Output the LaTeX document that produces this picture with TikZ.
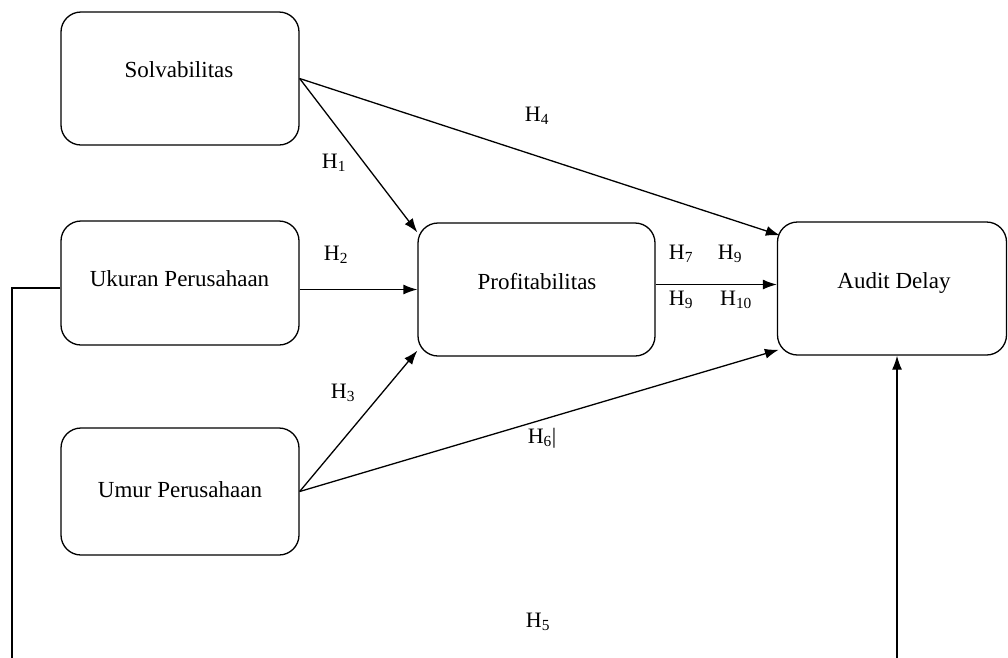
\documentclass[tikz,border=0pt]{standalone}
\usepackage{fontspec}
\setmainfont{Liberation Serif}
\usetikzlibrary{arrows.meta,calc}
\begin{document}
\begin{tikzpicture}[x=1pt,y=-1pt,
  box/.style={draw,line width=1.3pt,rounded corners=20pt,inner sep=0pt},
  txt/.style={font=\fontsize{23}{26}\selectfont,inner sep=0pt},
  hlab/.style={font=\fontsize{22}{24}\selectfont,inner sep=0pt},
  arr/.style={line width=1.3pt,-{Latex[length=14pt,width=10pt]}},
  ln/.style={line width=1.3pt}]
\useasboundingbox (0,0) rectangle (1008,657);
% boxes
\node[box,minimum width=238pt,minimum height=133pt] (solv) at (180,78.5) {};
\node[box,minimum width=238pt,minimum height=124pt] (ukur) at (180,283) {};
\node[box,minimum width=238pt,minimum height=127pt] (umur) at (180,491.5) {};
\node[box,minimum width=237pt,minimum height=133pt] (prof) at (536.5,289.5) {};
\node[box,minimum width=229pt,minimum height=133pt] (audit) at (892,288.5) {};
% texts
\node[txt,anchor=base] (solvT) at (179,77) {Solvabilitas};
\node[txt,anchor=base] (ukurT) at (179.5,286) {Ukuran Perusahaan};
\node[txt,anchor=base] (umurT) at (180,497) {Umur Perusahaan};
\node[txt,anchor=base] (profT) at (537,289) {Profitabilitas};
\node[txt,anchor=base] (auditT) at (894,288) {Audit Delay};
% connectors
\draw[arr] (solv.east) -- ($(prof.north west)+(0,10)$);
\draw[arr] (solv.east) -- ($(audit.north west)+(3,14)$);
\draw[arr] (ukur.east |- prof.west) -- (prof.west);
\draw[arr] (umur.east) -- ($(prof.south west)+(0,-6)$);
\draw[arr] (umur.east) -- ($(audit.south west)+(2,-6)$);
\coordinate (pa) at ($(prof.east)+(0,-5)$);
\draw[arr] (pa) -- (audit.west |- pa);
\coordinate (botL) at (12,662);
\coordinate (botR) at (897,662);
\draw[ln] (ukur.west |- 0,288) -- (12,288) -- (botL);
\draw[arr] (botR) -- (botR |- audit.south);
% labels
\node[hlab] (h4) at (537,116) {H\textsubscript{4}};
\node[hlab] (h1) at (334,163) {H\textsubscript{1}};
\node[hlab] (h2) at (336,255) {H\textsubscript{2}};
\node[hlab] (h3) at (343,393) {H\textsubscript{3}};
\node[hlab] (h6) at (542,438) {H\textsubscript{6}|};
\node[hlab] (h5) at (538,622) {H\textsubscript{5}};
\node[hlab] (h7) at (681,254) {H\textsubscript{7}};
\node[hlab] (h9a) at (730,254) {H\textsubscript{9}};
\node[hlab] (h9b) at (681,300) {H\textsubscript{9}};
\node[hlab] (h10) at (736,300) {H\textsubscript{10}};
\end{tikzpicture}
\end{document}
